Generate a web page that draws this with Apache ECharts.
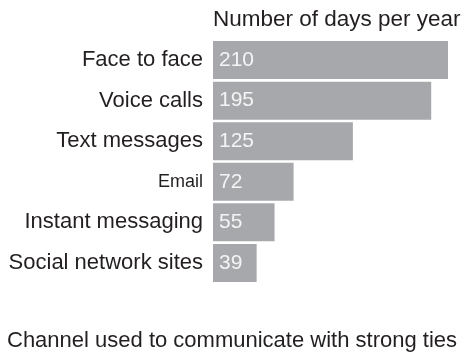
<!DOCTYPE html>
<html>
<head>
<meta charset="utf-8">
<script src="https://cdn.jsdelivr.net/npm/echarts@6/dist/echarts.min.js"></script>
<style>
  html, body { margin: 0; padding: 0; background: #fff; }
  #chart { width: 464px; height: 354px; }
</style>
</head>
<body>
<div id="chart"></div>
<script>
// Channels, top to bottom, and days per year for each
const channels = ['Face to face', 'Voice calls', 'Text messages', 'Email', 'Instant messaging', 'Social network sites'];
const daysPerYear = [210, 195, 125, 72, 55, 39];

const axisTitle = 'Number of days per year';
const footTitle = 'Channel used to communicate with strong ties';

const FONT = 'Liberation Sans, Arial, Helvetica, sans-serif';
const INK = '#231f20';

const chart = echarts.init(document.getElementById('chart'), null, { renderer: 'canvas' });

chart.setOption({
  animation: false,
  backgroundColor: '#ffffff',
  title: [
    {
      text: axisTitle,
      left: 213, top: 8,
      padding: 0,
      textStyle: { fontFamily: FONT, fontSize: 22.5, fontWeight: 'normal', color: INK }
    },
    {
      text: footTitle,
      left: 7, top: 330,
      padding: 0,
      textStyle: { fontFamily: FONT, fontSize: 22, fontWeight: 'normal', color: INK }
    }
  ],
  grid: { left: 213, right: 16, top: 39.8, bottom: 70.8, containLabel: false },
  xAxis: {
    type: 'value',
    min: 0,
    max: 210,
    show: false
  },
  yAxis: {
    type: 'category',
    data: channels,
    inverse: true,
    axisLine: { show: false },
    axisTick: { show: false },
    splitLine: { show: false },
    axisLabel: {
      margin: 10,
      formatter: (v) => (v === 'Email' ? '{s|' + v + '}' : '{n|' + v + '}'),
      rich: {
        n: { fontFamily: FONT, fontSize: 22, color: INK },
        s: { fontFamily: FONT, fontSize: 18, color: INK }
      }
    }
  },
  series: [{
    type: 'bar',
    data: daysPerYear,
    barCategoryGap: '6.3%',
    itemStyle: { color: '#a7a8ac' },
    label: {
      show: true,
      position: 'insideLeft',
      offset: [1, 0],
      fontFamily: FONT,
      fontSize: 21,
      color: '#f4f4f4'
    }
  }]
});
</script>
</body>
</html>
